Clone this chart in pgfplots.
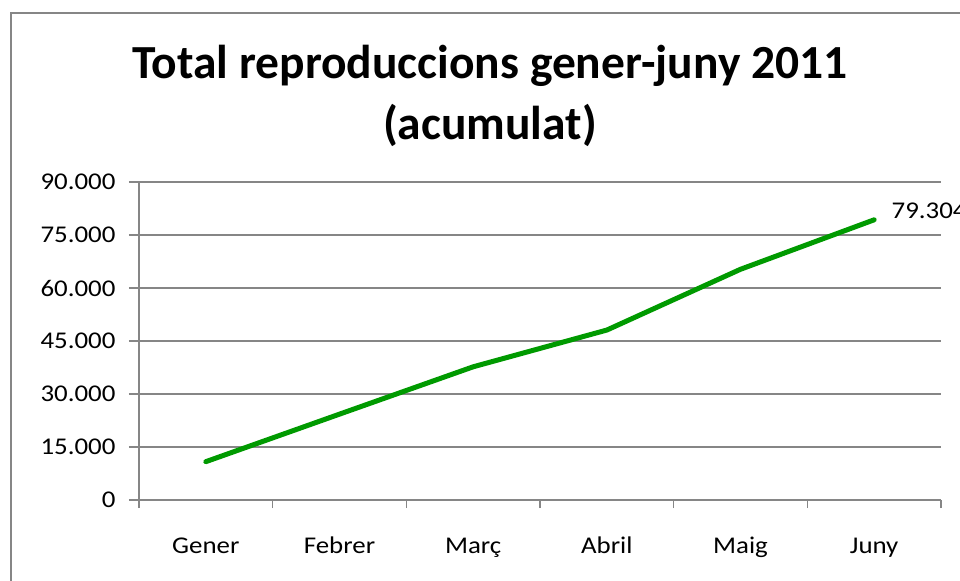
\documentclass[border=0pt]{standalone}
\usepackage{pgfplots}
\pgfplotsset{compat=1.18}
\usepackage{fontspec}
\setmainfont{Carlito}[FakeStretch=1.12]
\newfontfamily\titlefont{Carlito}
\definecolor{gridgray}{HTML}{868686}
\definecolor{linegreen}{HTML}{009A00}
\begin{document}
\begin{tikzpicture}
\useasboundingbox (0,0) rectangle (960bp,-581bp);
\draw[gridgray, line width=2bp] (11bp,-700bp) -- (11bp,-12.7bp) -- (1100bp,-12.7bp);
\node[anchor=base, inner sep=0, font=\titlefont\fontsize{47.5bp}{50bp}\selectfont\bfseries] at (490bp,-78bp) {Total reproduccions gener-juny 2011};
\node[anchor=base, inner sep=0, font=\titlefont\fontsize{47.5bp}{50bp}\selectfont\bfseries] at (490bp,-139bp) {(acumulat)};
\begin{axis}[
  at={(139bp,-500bp)}, anchor=south west,
  width=802bp, height=318bp, scale only axis,
  clip=false,
  xmin=-0.5, xmax=5.5, ymin=0, ymax=90000,
  ytick={0,15000,30000,45000,60000,75000,90000},
  scaled y ticks=false,
  /pgf/number format/.cd, fixed, 1000 sep={.}, assume math mode=true, /pgfplots/.cd,
  ymajorgrids, grid style={gridgray, line width=1.5bp},
  axis x line=bottom, axis y line=left,
  axis line style={gridgray, line width=1.5bp, -},
  xtick={0,1,2,3,4,5}, xticklabels={Gener,Febrer,Març,Abril,Maig,Juny},
  minor xtick={-0.5,0.5,1.5,2.5,3.5,4.5,5.5},
  tick align=outside,
  major tick length=10bp, minor tick length=8bp,
  major x tick style={draw=none},
  tick style={gridgray, line width=1.5bp},
  ticklabel style={font=\fontsize{24bp}{28bp}\selectfont, text=black},
  yticklabel style={xshift=-10bp},
  xticklabel style={text height=0.8em, text depth=0.25em, yshift=-32bp},
]
\addplot[linegreen, line width=5bp, line cap=round, line join=round]
  coordinates {(0,10850) (1,24300) (2,37700) (3,48100) (4,65300) (5,79304)}
  node[pos=1, anchor=base west, inner sep=0, xshift=15bp, yshift=1bp, text=black, font=\fontsize{24bp}{28bp}\selectfont] {79.304};
\end{axis}
\end{tikzpicture}
\end{document}
